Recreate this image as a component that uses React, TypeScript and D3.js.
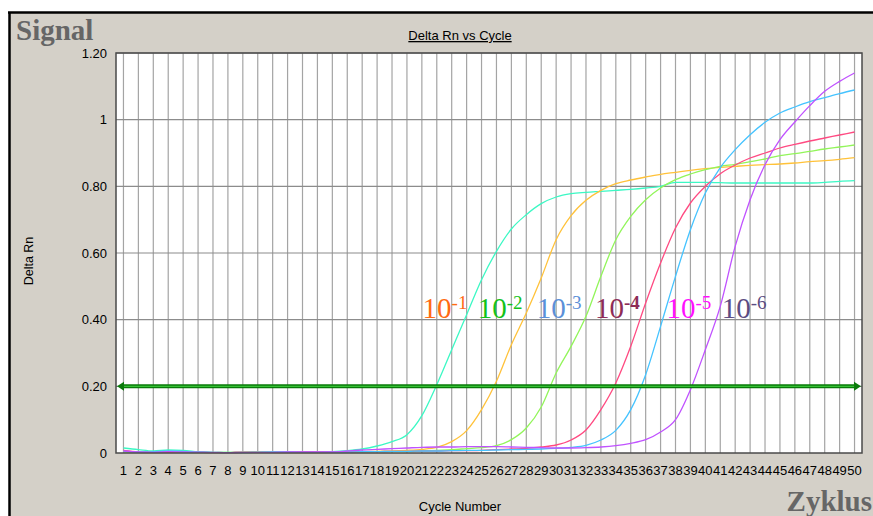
import React from "react";
import * as d3 from "d3";

// Amplification curves, one value per cycle (cycles 1..50)
const cycles: number[] = Array.from({ length: 50 }, (_, i) => i + 1);

const dil1: number[] = [
  0.015, 0.010, 0.006, 0.009, 0.008, 0.004, 0.002, 0.002, 0.003, 0.004,
  0.004, 0.003, 0.003, 0.003, 0.004, 0.007, 0.012, 0.021, 0.034, 0.055,
  0.112, 0.205, 0.310, 0.415, 0.520, 0.605, 0.672, 0.715, 0.748, 0.768,
  0.778, 0.782, 0.785, 0.788, 0.791, 0.795, 0.800, 0.812, 0.812, 0.812,
  0.811, 0.810, 0.810, 0.810, 0.810, 0.810, 0.810, 0.812, 0.815, 0.817,
];
const dil2: number[] = [
  0.004, 0.002, 0.001, 0.002, 0.003, 0.002, 0.001, 0.001, 0.002, 0.002,
  0.002, 0.001, 0.001, 0.001, 0.002, 0.003, 0.004, 0.005, 0.006, 0.008,
  0.011, 0.017, 0.034, 0.067, 0.130, 0.215, 0.325, 0.420, 0.525, 0.640,
  0.712, 0.758, 0.788, 0.808, 0.819, 0.828, 0.836, 0.842, 0.848, 0.853,
  0.857, 0.860, 0.863, 0.865, 0.867, 0.870, 0.874, 0.877, 0.881, 0.886,
];
const dil3: number[] = [
  0.003, 0.002, 0.002, 0.003, 0.002, 0.001, 0.001, 0.002, 0.002, 0.003,
  0.003, 0.002, 0.002, 0.003, 0.003, 0.003, 0.003, 0.004, 0.004, 0.004,
  0.006, 0.008, 0.010, 0.013, 0.016, 0.022, 0.040, 0.075, 0.138, 0.240,
  0.320, 0.410, 0.530, 0.640, 0.710, 0.760, 0.795, 0.820, 0.837, 0.850,
  0.860, 0.866, 0.874, 0.882, 0.892, 0.898, 0.905, 0.912, 0.918, 0.924,
];
const dil4: number[] = [
  0.008, 0.004, 0.003, 0.002, 0.004, 0.003, 0.002, 0.001, 0.002, 0.002,
  0.002, 0.002, 0.003, 0.003, 0.003, 0.003, 0.004, 0.004, 0.005, 0.005,
  0.006, 0.006, 0.007, 0.007, 0.008, 0.010, 0.012, 0.014, 0.018, 0.024,
  0.039, 0.069, 0.130, 0.210, 0.320, 0.450, 0.570, 0.675, 0.750, 0.800,
  0.838, 0.864, 0.885, 0.900, 0.915, 0.926, 0.936, 0.945, 0.954, 0.963,
];
const dil5: number[] = [
  0.005, 0.003, 0.004, 0.006, 0.005, 0.003, 0.002, 0.001, 0.001, 0.002,
  0.003, 0.003, 0.002, 0.002, 0.003, 0.003, 0.004, 0.004, 0.005, 0.005,
  0.006, 0.006, 0.007, 0.008, 0.008, 0.009, 0.010, 0.011, 0.012, 0.014,
  0.017, 0.023, 0.039, 0.068, 0.130, 0.235, 0.380, 0.530, 0.670, 0.780,
  0.856, 0.910, 0.955, 0.992, 1.020, 1.038, 1.054, 1.066, 1.078, 1.089,
];
const dil6: number[] = [
  0.006, 0.003, 0.002, 0.004, 0.003, 0.002, 0.001, 0.001, 0.002, 0.002,
  0.002, 0.003, 0.003, 0.003, 0.003, 0.006, 0.009, 0.011, 0.013, 0.015,
  0.017, 0.018, 0.018, 0.019, 0.019, 0.019, 0.018, 0.017, 0.016, 0.015,
  0.015, 0.016, 0.018, 0.022, 0.029, 0.040, 0.063, 0.100, 0.190, 0.310,
  0.440, 0.620, 0.760, 0.865, 0.940, 0.993, 1.042, 1.085, 1.115, 1.140,
];

const seriesValues: number[][] = [dil1, dil2, dil3, dil4, dil5, dil6];
const seriesColors: string[] = ["#3cf8c4", "#ffc23a", "#92f55a", "#ff4a82", "#45c3ff", "#c052ff"];

// Dilution labels: exponent, colour, starting cycle position
const dilutionExponents: string[] = ["-1", "-2", "-3", "-4", "-5", "-6"];
const dilutionColors: string[] = ["#ff6a12", "#12c21a", "#5b90d8", "#8e2c56", "#ff10ff", "#5c4c82"];
const dilutionLabelCycles: number[] = [21.05, 24.75, 28.7, 32.6, 37.4, 41.1];
const dilutionLabelLevel = 0.405;

const yTicks: number[] = [0, 0.2, 0.4, 0.6, 0.8, 1.0, 1.2];
const threshold = 0.2;

const W = 873;
const H = 516;
const plot = { left: 116, right: 862, top: 53, bottom: 453 };

const sans = "'Liberation Sans', Arial, sans-serif";
const serif = "'Liberation Serif', 'Times New Roman', serif";

export default function App() {
  const x = d3.scaleLinear().domain([0.5, 50.5]).range([plot.left, plot.right]);
  const y = d3.scaleLinear().domain([0, 1.2]).range([plot.bottom, plot.top]);

  const line = d3
    .line<number>()
    .x((_, i) => x(cycles[i]))
    .y((d) => y(d))
    .curve(d3.curveMonotoneX);

  const fmtY = (v: number) => (v === 0 ? "0" : Math.abs(v - 1) < 1e-9 ? "1" : v.toFixed(2));
  const ty = y(threshold);

  return (
    <svg
      width={W}
      height={H}
      viewBox={`0 0 ${W} ${H}`}
      style={{ position: "absolute", left: 0, top: 0, background: "#ffffff" }}
    >
      {/* window panel */}
      <rect x={9} y={12} width={W - 9} height={H - 12} fill="#d4d0c8" />
      <line x1={8} x2={W} y1={12.5} y2={12.5} stroke="#000" strokeWidth={2.5} />
      <line x1={9.5} x2={9.5} y1={12} y2={H} stroke="#000" strokeWidth={2.5} />

      {/* corner captions */}
      <text x={16} y={40} fontFamily={serif} fontWeight="bold" fontSize={29} fill="#666">
        Signal
      </text>
      <text x={872} y={511} textAnchor="end" fontFamily={serif} fontWeight="bold" fontSize={29} fill="#666">
        Zyklus
      </text>

      {/* title */}
      <text x={460} y={40} textAnchor="middle" fontFamily={sans} fontSize={13} fill="#000" textDecoration="underline">
        Delta Rn vs Cycle
      </text>

      {/* plot area */}
      <rect x={plot.left} y={plot.top} width={plot.right - plot.left} height={plot.bottom - plot.top} fill="#fff" />

      {/* vertical grid, one per cycle */}
      {cycles.map((c) => (
        <line key={`vg${c}`} x1={x(c)} x2={x(c)} y1={plot.top} y2={plot.bottom} stroke="#a4a4a4" strokeWidth={1.2} />
      ))}
      {/* horizontal grid */}
      {yTicks.slice(1).map((v) => (
        <line key={`hg${v}`} x1={plot.left} x2={plot.right} y1={y(v)} y2={y(v)} stroke="#8c8c8c" strokeWidth={1.2} />
      ))}

      {/* amplification curves */}
      {seriesValues.map((vals, i) => (
        <path key={`s${i}`} d={line(vals) || ""} fill="none" stroke={seriesColors[i]} strokeWidth={1.3} />
      ))}

      {/* threshold with arrows */}
      <line x1={plot.left + 5} x2={plot.right - 5} y1={ty} y2={ty} stroke="#0a7a0a" strokeWidth={4} />
      <line x1={plot.left + 5} x2={plot.right - 5} y1={ty} y2={ty} stroke="#34c234" strokeWidth={1.4} />
      <path
        d={`M${plot.left + 1},${ty} L${plot.left + 8},${ty - 4.5} L${plot.left + 8},${ty + 4.5} Z`}
        fill="#0a7a0a"
      />
      <path
        d={`M${plot.right - 1},${ty} L${plot.right - 8},${ty - 4.5} L${plot.right - 8},${ty + 4.5} Z`}
        fill="#0a7a0a"
      />

      {/* plot frame */}
      <rect
        x={plot.left}
        y={plot.top}
        width={plot.right - plot.left}
        height={plot.bottom - plot.top}
        fill="none"
        stroke="#4a4a4a"
        strokeWidth={1.5}
      />

      {/* dilution labels */}
      {dilutionExponents.map((e, i) => (
        <text
          key={`lab${i}`}
          x={x(dilutionLabelCycles[i])}
          y={y(dilutionLabelLevel)}
          fontFamily={serif}
          fontSize={29}
          fill={dilutionColors[i]}
        >
          10
          <tspan dy={-9} fontSize={19} fontWeight={e === "-4" ? "bold" : "normal"}>
            {e}
          </tspan>
        </text>
      ))}

      {/* y axis */}
      {yTicks.map((v) => (
        <text key={`yt${v}`} x={107} y={y(v) + 4.5} textAnchor="end" fontFamily={sans} fontSize={13} fill="#000">
          {fmtY(v)}
        </text>
      ))}
      <text
        transform={`translate(33,261) rotate(-90)`}
        textAnchor="middle"
        fontFamily={sans}
        fontSize={12.5}
        fill="#000"
      >
        Delta Rn
      </text>

      {/* x axis */}
      {cycles.map((c) => (
        <text key={`xt${c}`} x={x(c)} y={475} textAnchor="middle" fontFamily={sans} fontSize={13} fill="#000">
          {c}
        </text>
      ))}
      <text x={460} y={511} textAnchor="middle" fontFamily={sans} fontSize={13} fill="#000">
        Cycle Number
      </text>
    </svg>
  );
}
